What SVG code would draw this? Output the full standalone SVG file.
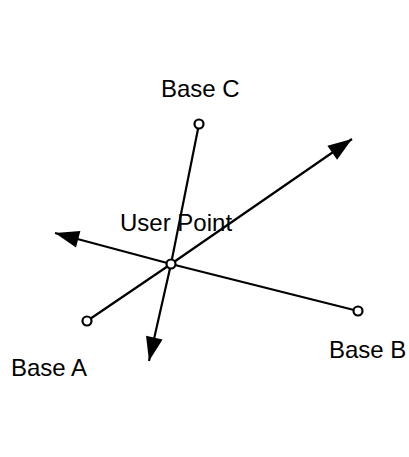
<svg xmlns="http://www.w3.org/2000/svg" width="409" height="457" viewBox="0 0 409 457">
  <style>
    .label { font-family: "Liberation Sans", Arial, Helvetica, sans-serif; font-size: 24px; fill: #000; }
    .ray { fill: none; stroke: #000; stroke-width: 2.2; }
    .pt { fill: #fff; stroke: #000; stroke-width: 2.2; }
  </style>
  <defs>
    <marker id="head" markerUnits="userSpaceOnUse" markerWidth="30" markerHeight="22" viewBox="-26 -11 28 22" refX="0" refY="0" orient="auto">
      <path d="M0,0 L-24,-8.5 L-24,8.5 Z" fill="#000"/>
    </marker>
  </defs>
  <rect width="409" height="457" fill="#fff"/>

  <g id="connectors">
    <polyline class="ray" points="87,321 171,264 352,139" marker-end="url(#head)"/>
    <polyline class="ray" points="358,311 171,264 55,233" marker-end="url(#head)"/>
    <polyline class="ray" points="199,124 171,264 149,361" marker-end="url(#head)"/>
  </g>

  <g id="base-c">
    <circle class="pt" cx="199" cy="124" r="4.5"/>
    <text class="label" x="161" y="97">Base C</text>
  </g>
  <g id="base-a">
    <circle class="pt" cx="87" cy="321" r="4.5"/>
    <text class="label" x="11" y="376">Base A</text>
  </g>
  <g id="base-b">
    <circle class="pt" cx="358" cy="311" r="4.5"/>
    <text class="label" x="329" y="358">Base B</text>
  </g>
  <g id="user-point">
    <circle class="pt" cx="171" cy="264" r="4.5"/>
    <text class="label" x="120" y="231">User Point</text>
  </g>
</svg>
